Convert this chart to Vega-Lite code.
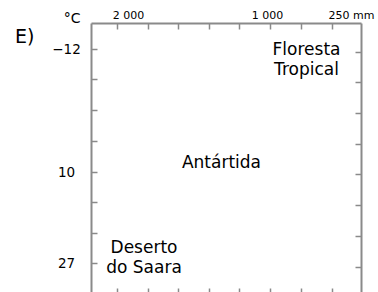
{
  "$schema": "https://vega.github.io/schema/vega-lite/v6.json",
  "width": 270,
  "height": 272,
  "autosize": {"type": "none"},
  "padding": {"left": 91, "top": 23, "right": 17, "bottom": 0},
  "background": "white",
  "title": {"text": "E)", "anchor": "start", "frame": "group", "orient": "top", "fontSize": 19, "font": "DejaVu Sans", "fontWeight": "normal", "color": "#000", "baseline": "alphabetic", "offset": 0, "dx": -76, "dy": 53},
  "data": {"values": [
    {"label": ["Floresta", "Tropical"], "px": 215.5, "py": 32},
    {"label": ["Antártida"], "px": 130.5, "py": 145},
    {"label": ["Deserto", "do Saara"], "px": 53, "py": 229.5}
  ]},
  "config": {
    "view": {"stroke": null},
    "font": "DejaVu Sans",
    "axis": {"grid": false, "domainColor": "#8a8a8a", "domainWidth": 2, "tickColor": "#8a8a8a", "tickWidth": 1.5, "labelColor": "#000", "labelFont": "DejaVu Sans", "labelOverlap": false, "labelBound": false, "labelFlush": false}
  },
  "resolve": {"axis": {"x": "independent", "y": "independent"}},
  "layer": [
    {
      "mark": {"type": "text", "fontSize": 17, "lineHeight": 20, "baseline": "alphabetic", "align": "center", "color": "#000", "font": "DejaVu Sans"},
      "encoding": {
        "x": {"field": "px", "type": "quantitative", "scale": {"domain": [0, 270], "nice": false, "zero": false},
          "axis": {"orient": "top", "title": null, "values": [26, 57, 87, 118, 148, 179, 210, 241], "tickSize": -6, "labelFontSize": 11, "labelPadding": 9,
            "labelExpr": "datum.value == 26 ? '2 000' : datum.value == 179 ? '1 000' : datum.value == 241 ? '250 mm' : ''",
            "labelOffset": {"condition": [{"test": "datum.value == 26", "value": 11}, {"test": "datum.value == 241", "value": 19}], "value": -3}}},
        "y": {"field": "py", "type": "quantitative", "scale": {"domain": [0, 272], "nice": false, "zero": false, "reverse": true},
          "axis": {"orient": "left", "title": "°C", "titleAngle": 0, "titleAlign": "right", "titleBaseline": "alphabetic", "titleX": -11, "titleY": -1, "titleFontSize": 14, "titleFontWeight": "normal", "titleColor": "#000", "titleFont": "DejaVu Sans",
            "values": [26, 56, 87, 118, 149, 179, 210, 240], "tickSize": -6, "labelFontSize": 13.5, "labelPadding": 31, "labelAlign": "center",
            "labelExpr": "datum.value == 26 ? '−12' : datum.value == 149 ? '10' : datum.value == 240 ? '27' : ''"}},
        "text": {"field": "label"}
      }
    },
    {
      "mark": {"type": "point", "opacity": 0},
      "encoding": {
        "x": {"field": "px", "type": "quantitative", "axis": {"orient": "bottom", "title": null, "labels": false, "values": [26, 57, 87, 118, 148, 179, 210, 241], "tickSize": -7}},
        "y": {"field": "py", "type": "quantitative", "axis": {"orient": "right", "title": null, "labels": false, "values": [29, 59, 90, 121, 151, 182, 213, 244], "tickSize": -6}}
      }
    }
  ]
}
